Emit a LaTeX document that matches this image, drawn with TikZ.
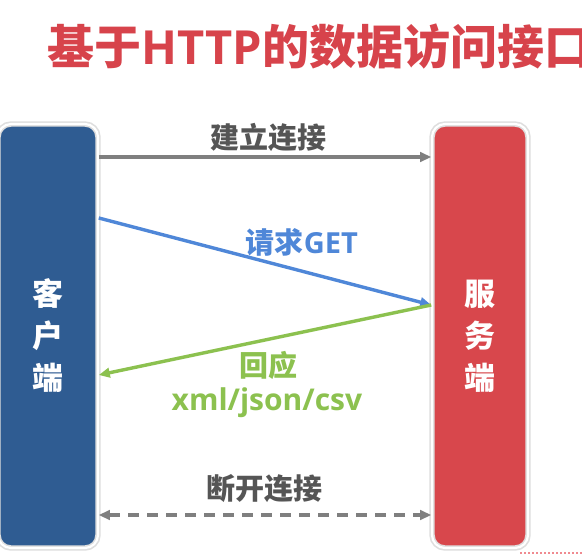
\documentclass[tikz,border=0pt]{standalone}
\usepackage{fontspec}
\setmainfont{Open Sans}[BoldFont={* Bold}]
\newfontfamily\cjk{Noto Sans CJK SC}[BoldFont={Noto Sans CJK SC Black}]
\usetikzlibrary{arrows.meta}
\definecolor{titlered}{HTML}{D7434B}
\definecolor{clientblue}{HTML}{2F5C92}
\definecolor{serverred}{HTML}{D8474C}
\definecolor{linkgray}{HTML}{7F7F7F}
\definecolor{textgray}{HTML}{555555}
\definecolor{reqblue}{HTML}{4F87D8}
\definecolor{respgreen}{HTML}{8CC14F}
\definecolor{pinkdot}{HTML}{F08A90}
\tikzset{
  headtip/.tip={Triangle[length=11pt,width=9.5pt]},
  party/.style={draw=black!13, line width=1.6pt, double=white, double distance=2.2pt,
    rounded corners=13pt, minimum height=424pt, inner sep=0pt,
    text=white, font=\cjk\bfseries\fontsize{31}{42}\selectfont, align=center},
  msg/.style={line width=3.4pt, -headtip},
  lbl/.style={font=\bfseries\fontsize{29}{34}\selectfont, align=center, inner sep=0pt}
}
\begin{document}
\begin{tikzpicture}[x=1pt,y=-1pt]
  \path[use as bounding box, fill=white] (0,0) rectangle (582,555);
  % title
  \node[anchor=west, text=titlered, font=\bfseries\fontsize{47}{52}\selectfont, inner sep=0pt]
    (title) at (47,47) {{\cjk 基于}HTTP{\cjk 的数据访问接口}};
  % the two parties
  \node[party, fill=clientblue, minimum width=100pt] (client) at (48,336) {客\\户\\端};
  \node[party, fill=serverred, minimum width=96pt] (server) at (480,336) {服\\务\\端};
  % attachment points on the box edges
  \coordinate (cA) at (client.east |- 0,157);
  \coordinate (sA) at (server.west |- 0,157);
  \coordinate (cB) at (client.east |- 0,218);
  \coordinate (sB) at (server.west |- 0,305);
  \coordinate (cC) at (client.east |- 0,375);
  \coordinate (cD) at (client.east |- 0,515);
  \coordinate (sD) at (server.west |- 0,515);
  % open connection
  \draw[msg, linkgray] (cA) -- (sA);
  \node[lbl, text=textgray] (open) at (268,137) {\cjk 建立连接};
  % request
  \draw[msg, reqblue] (cB) -- (sB);
  \node[lbl, text=reqblue] (req) at (302,242) {{\cjk 请求}GET};
  % response
  \draw[msg, respgreen] (sB) -- (cC);
  \node[lbl, text=respgreen] (resp) at (268,365) {\cjk 回应};
  \node[lbl, text=respgreen, font=\bfseries\fontsize{30}{34}\selectfont] (fmt) at (267,403) {xml/json/csv};
  % close connection
  \draw[msg, linkgray, dash pattern=on 11pt off 8pt, headtip-headtip] (cD) -- (sD);
  \node[lbl, text=textgray] (close) at (264,489) {\cjk 断开连接};
  % dotted pink edge at the lower right
  \coordinate (pA) at (520,553);
  \coordinate (pB) at (582,553);
  \draw[pinkdot, line width=1.5pt, dash pattern=on 2pt off 2pt] (pA) -- (pB);
\end{tikzpicture}
\end{document}
